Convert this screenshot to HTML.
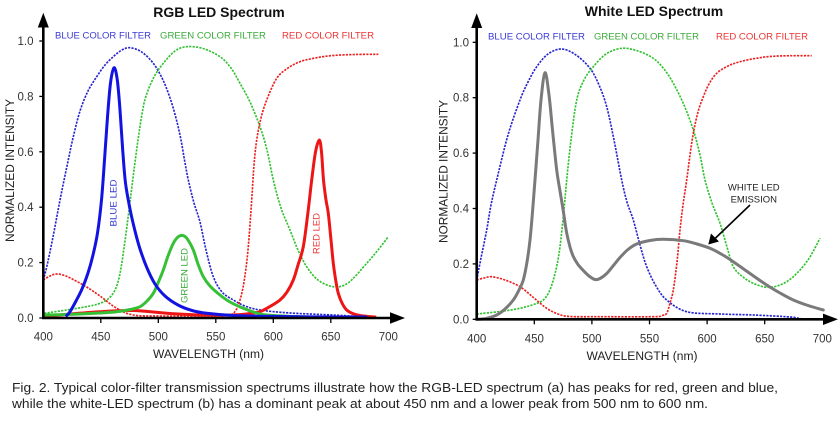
<!DOCTYPE html>
<html><head><meta charset="utf-8"><style>
html,body{margin:0;padding:0;background:#fff;}
svg{display:block;font-family:"Liberation Sans",Arial,sans-serif;}
</style></head><body>
<svg id="s" width="840" height="426" viewBox="0 0 840 426" xmlns="http://www.w3.org/2000/svg">
<rect width="840" height="426" fill="#fff"/>
<!-- Titles -->
<text x="219" y="17" font-size="14" font-weight="bold" text-anchor="middle" fill="#111">RGB LED Spectrum</text>
<text x="654" y="16" font-size="14" font-weight="bold" text-anchor="middle" fill="#111">White LED Spectrum</text>
<!-- filter labels -->
<g font-size="9.5">
<text x="55" y="38.5" fill="#3a3ad6" textLength="96" lengthAdjust="spacingAndGlyphs">BLUE COLOR FILTER</text>
<text x="160" y="38.5" fill="#3aaa3a" textLength="106" lengthAdjust="spacingAndGlyphs">GREEN COLOR FILTER</text>
<text x="282" y="38.5" fill="#ee3333" textLength="92" lengthAdjust="spacingAndGlyphs">RED COLOR FILTER</text>
<text x="488" y="39.5" fill="#3a3ad6" textLength="97" lengthAdjust="spacingAndGlyphs">BLUE COLOR FILTER</text>
<text x="594" y="39.5" fill="#3aaa3a" textLength="105" lengthAdjust="spacingAndGlyphs">GREEN COLOR FILTER</text>
<text x="716" y="39.5" fill="#ee3333" textLength="92" lengthAdjust="spacingAndGlyphs">RED COLOR FILTER</text>
</g>
<g id="curves"></g>
<!-- Axes -->
<g stroke="#000" stroke-width="2.6" fill="none">
<line x1="43.3" y1="24" x2="43.3" y2="319"/>
<line x1="42" y1="318" x2="392" y2="318"/>
<line x1="476.7" y1="24" x2="476.7" y2="320.3"/>
<line x1="475.4" y1="319.3" x2="825" y2="319.3"/>
</g>
<g fill="#000">
<polygon points="43.3,12.7 37.8,27.5 48.8,27.5"/>
<polygon points="405,318 390,312.3 390,323.7"/>
<polygon points="476.7,13.3 471.2,28 482.2,28"/>
<polygon points="838,319.3 823,313.6 823,325"/>
</g>
<g id="ticks" stroke="#000" stroke-width="1.3"></g>
<g id="labels" font-size="11.5" fill="#333"></g>
<!-- axis titles -->
<text x="208.5" y="358" font-size="11.5" text-anchor="middle" fill="#222" textLength="111" lengthAdjust="spacingAndGlyphs">WAVELENGTH (nm)</text>
<text x="642" y="360" font-size="11.5" text-anchor="middle" fill="#222" textLength="111" lengthAdjust="spacingAndGlyphs">WAVELENGTH (nm)</text>
<text transform="translate(14,170.5) rotate(-90)" font-size="11.5" text-anchor="middle" fill="#222" textLength="143" lengthAdjust="spacingAndGlyphs">NORMALIZED INTENSITY</text>
<text transform="translate(447.5,171.5) rotate(-90)" font-size="11.5" text-anchor="middle" fill="#222" textLength="143" lengthAdjust="spacingAndGlyphs">NORMALIZED INTENSITY</text>
<!-- LED labels -->
<text transform="translate(116.5,203) rotate(-90)" font-size="9.5" text-anchor="middle" fill="#3a3ad6" textLength="47" lengthAdjust="spacingAndGlyphs">BLUE LED</text>
<text transform="translate(187.5,275.5) rotate(-90)" font-size="9.5" text-anchor="middle" fill="#3aaa3a" textLength="55" lengthAdjust="spacingAndGlyphs">GREEN LED</text>
<text transform="translate(319.5,233.5) rotate(-90)" font-size="9.5" text-anchor="middle" fill="#ee3333" textLength="41" lengthAdjust="spacingAndGlyphs">RED LED</text>
<!-- White LED annotation -->
<text x="753.8" y="190.7" font-size="9.5" text-anchor="middle" fill="#222">WHITE LED</text>
<text x="753.8" y="202.3" font-size="9.5" text-anchor="middle" fill="#222">EMISSION</text>
<line x1="750" y1="205" x2="714" y2="239.5" stroke="#000" stroke-width="1.6"/>
<polygon points="708.3,244.5 711,233.5 719,241.5" fill="#000"/>
<!-- caption -->
<text x="12" y="392" font-size="13" fill="#222" textLength="766" lengthAdjust="spacingAndGlyphs">Fig. 2. Typical color-filter transmission spectrums illustrate how the RGB-LED spectrum (a) has peaks for red, green and blue,</text>
<text x="12" y="408" font-size="13" fill="#222" textLength="696" lengthAdjust="spacingAndGlyphs">while the white-LED spectrum (b) has a dominant peak at about 450 nm and a lower peak from 500 nm to 600 nm.</text>
</svg>
<script>
(function(){
var NS="http://www.w3.org/2000/svg";
var g=document.getElementById("curves");
function cr(p){
  var d="M"+p[0][0]+","+p[0][1];
  for(var i=0;i<p.length-1;i++){
    var p0=p[i>0?i-1:0],p1=p[i],p2=p[i+1],p3=p[i+2<p.length?i+2:p.length-1];
    var c1x=p1[0]+(p2[0]-p0[0])/6,c1y=p1[1]+(p2[1]-p0[1])/6;
    var c2x=p2[0]-(p3[0]-p1[0])/6,c2y=p2[1]-(p3[1]-p1[1])/6;
    d+=" C"+c1x.toFixed(2)+","+c1y.toFixed(2)+" "+c2x.toFixed(2)+","+c2y.toFixed(2)+" "+p2[0]+","+p2[1];
  }
  return d;
}
function add(p,color,w,dash){
  var e=document.createElementNS(NS,"path");
  e.setAttribute("d",cr(p));e.setAttribute("fill","none");
  e.setAttribute("stroke",color);e.setAttribute("stroke-width",w);
  e.setAttribute("stroke-linejoin","round");e.setAttribute("stroke-linecap","round");
  if(dash){e.setAttribute("stroke-dasharray",dash);e.setAttribute("stroke-linecap","butt");}
  g.appendChild(e);
}
var DB="#2626d0",DG="#30c230",DR="#ec2020",DS="2.2 1.2",DW=1.65;
// LEFT dotted filters
add([[43.3,280],[46.7,267],[53,237],[60,200],[67,166],[73,138],[80,111],[88,91],[96.7,76.7],[105,65],[113.3,56.7],[121,50.5],[128.3,47.7],[137,49.5],[145,54.5],[153.3,63.3],[160,74],[166,87],[172,104],[177,122],[181,140],[184.5,160],[188.3,180],[194,203],[200,222],[206,250],[213.3,276.7],[222,292],[233.3,300],[245,306],[260,310],[290,313],[333,315],[363,316.7]],DB,DW,DS);
add([[44.3,313.3],[66.7,310],[90,306],[100,303.3],[108,299],[114,292],[118,282],[121,268],[124,248],[127.5,222],[130.5,198],[134,170],[138,140],[142,114],[146,96],[154,77],[163.3,63.3],[175,51],[186.7,46.7],[203,48.5],[220,56.7],[231,68],[240,83.3],[250,102],[260,126.7],[267,150],[273.3,180],[281,208],[290,230],[298,250],[306.7,266.7],[318,280],[333.3,286.7],[348,283],[366.7,263.3],[378,250],[388.3,236.7]],DG,DW,DS);
add([[43.3,280],[50,276],[57,274],[66,276],[76,281],[86.7,287],[100,296],[116.7,308.3],[133.3,315],[160,316],[200,316],[228,315.5],[236,310],[240,300],[244,282],[248,250],[251.7,200],[254,165],[256.7,140],[261,118],[266.7,100],[276.7,78.3],[288,68],[300,61.7],[315,58],[333.3,55.5],[355,54.5],[378.3,54.3]],DR,DW,DS);
// LEFT LEDs
add([[44.3,316.7],[70,314],[100,311.7],[133.3,310.5],[166.7,313.3],[200,315],[233.3,315],[250,313.5],[260,311.7],[270,306.5],[280,300],[287,292],[293.3,280],[298,265],[303.3,246.7],[308,212],[311.7,180],[315.5,152],[319.3,140],[321.5,152],[323.5,180],[326,200],[328.3,213.3],[331,240],[333.3,263.3],[336,282],[338.3,293.3],[342,303],[346.7,310],[354,314],[363.3,316],[375,317]],"#ee1515",3);
add([[44.3,315],[66.7,314.5],[100,313],[116.7,311.7],[130,309.5],[140,306.7],[147,301],[153.3,293.3],[158,283],[163.3,270],[168,256],[173.3,243.3],[178,237],[182.7,235.5],[187,238.5],[193.3,250],[198,264],[203.3,276.7],[210,286],[220,295],[230,302],[243.3,308.3],[255,312.5],[266.7,315],[300,316.7],[340,317.2]],"#35c035",3);
add([[66.7,315.5],[70,311.7],[76,301],[82,289],[88,273],[93,255],[97.5,233],[101.5,200],[104.5,160],[107.5,117],[110.5,83],[114,67.7],[117.3,80],[120,110],[122.7,150],[125.5,183],[130,209],[135,231],[140,249],[147,268],[155,284],[165,296],[178,305],[192,310.5],[206.7,313.3],[233,315.5],[280,316.5],[330,317],[366,317]],"#1212e2",3);
// RIGHT dotted filters
add([[476.7,280],[481,258],[486.7,230],[491,205],[496.7,180],[508,135],[520,100],[528,82],[536.7,66.7],[548,54],[561.7,49],[576,55],[590,68.3],[599,85],[606.7,106.7],[614,140],[621.7,180],[627,202],[633.3,220],[640,245],[646.7,266.7],[656,286],[666.7,300],[686.7,311.7],[720,314],[753.3,315],[790,317],[803.3,319.3]],DB,DW,DS);
add([[476.7,314],[500,311.5],[520,308.3],[535,304],[543.3,300],[549,292],[553.3,280],[557,265],[560,246.7],[563.5,215],[566.7,180],[571,140],[576.7,100],[584,80],[593.3,66.7],[606,54],[621.7,48.3],[638,51],[653.3,58.3],[664,69],[673.3,83.3],[684,105],[693.3,130],[700,155],[705,180],[712,203],[720,223.3],[727,247],[733.3,266.7],[743,277],[753.3,283.3],[766.7,287.3],[780,285],[793.3,276.7],[808,260],[820,238.3]],DG,DW,DS);
add([[476.7,280],[484,278],[491.7,276.7],[505,280],[520,286.7],[534,298],[546.7,308.3],[558,314],[570,316.5],[600,316.7],[653.3,316.7],[662,315.5],[666.7,313.3],[670,303],[673.3,290],[677,262],[680,230],[683,205],[686.7,180],[690,155],[693.3,133.3],[698,112],[703.3,96.7],[709,84],[716.7,73.3],[728,66],[740,61.7],[755,58.5],[770,56.5],[790,55.7],[811.7,55.7]],DR,DW,DS);
// White LED
add([[476.7,319.3],[486,318.5],[496.7,315],[505,309],[513.3,300],[518.5,291],[523.3,280],[527,262],[530,240],[532.5,212],[535,180],[538,140],[541,100],[545,72.7],[549,95],[552.5,130],[556.7,170],[560,191],[563.3,211],[566.5,232],[570,247],[573.3,256.5],[578,264.5],[583.3,270.5],[589,276],[595,279.5],[600,278.5],[606.7,273.5],[613,266],[620,257.5],[628,249.5],[636.7,244],[650,240.5],[663.3,239.3],[683.3,240.7],[697,244],[710,248.3],[722,254.5],[733.3,261.7],[750,273.5],[766.7,285],[780,293],[793.3,300],[808,305.5],[823.3,310]],"#7a7a7a",3);

// ticks & labels
var tk=document.getElementById("ticks"),lb=document.getElementById("labels");
function line(x1,y1,x2,y2){var e=document.createElementNS(NS,"line");e.setAttribute("x1",x1);e.setAttribute("y1",y1);e.setAttribute("x2",x2);e.setAttribute("y2",y2);tk.appendChild(e);}
function txt(x,y,s,anchor){var e=document.createElementNS(NS,"text");e.setAttribute("x",x);e.setAttribute("y",y);e.setAttribute("text-anchor",anchor);e.textContent=s;lb.appendChild(e);}
var charts=[{x0:43.3,y0:318,sx:1.15,ylab:33.5,xb:340.7},{x0:476.7,y0:319.3,sx:1.152,ylab:469,xb:342.7}];
charts.forEach(function(c){
  for(var i=0;i<=5;i++){
    var v=i*0.2,y=c.y0-v*277;
    line(c.x0-4,y,c.x0,y);
    txt(c.ylab,y+4,v.toFixed(1),"end");
  }
  for(var n=400;n<=700;n+=50){
    var x=c.x0+(n-400)*c.sx;
    if(n>400&&n<700)line(x,c.y0,x,c.y0+5);
    txt(x,c.xb,String(n),"middle");
  }
});
})();
</script>
</body></html>
